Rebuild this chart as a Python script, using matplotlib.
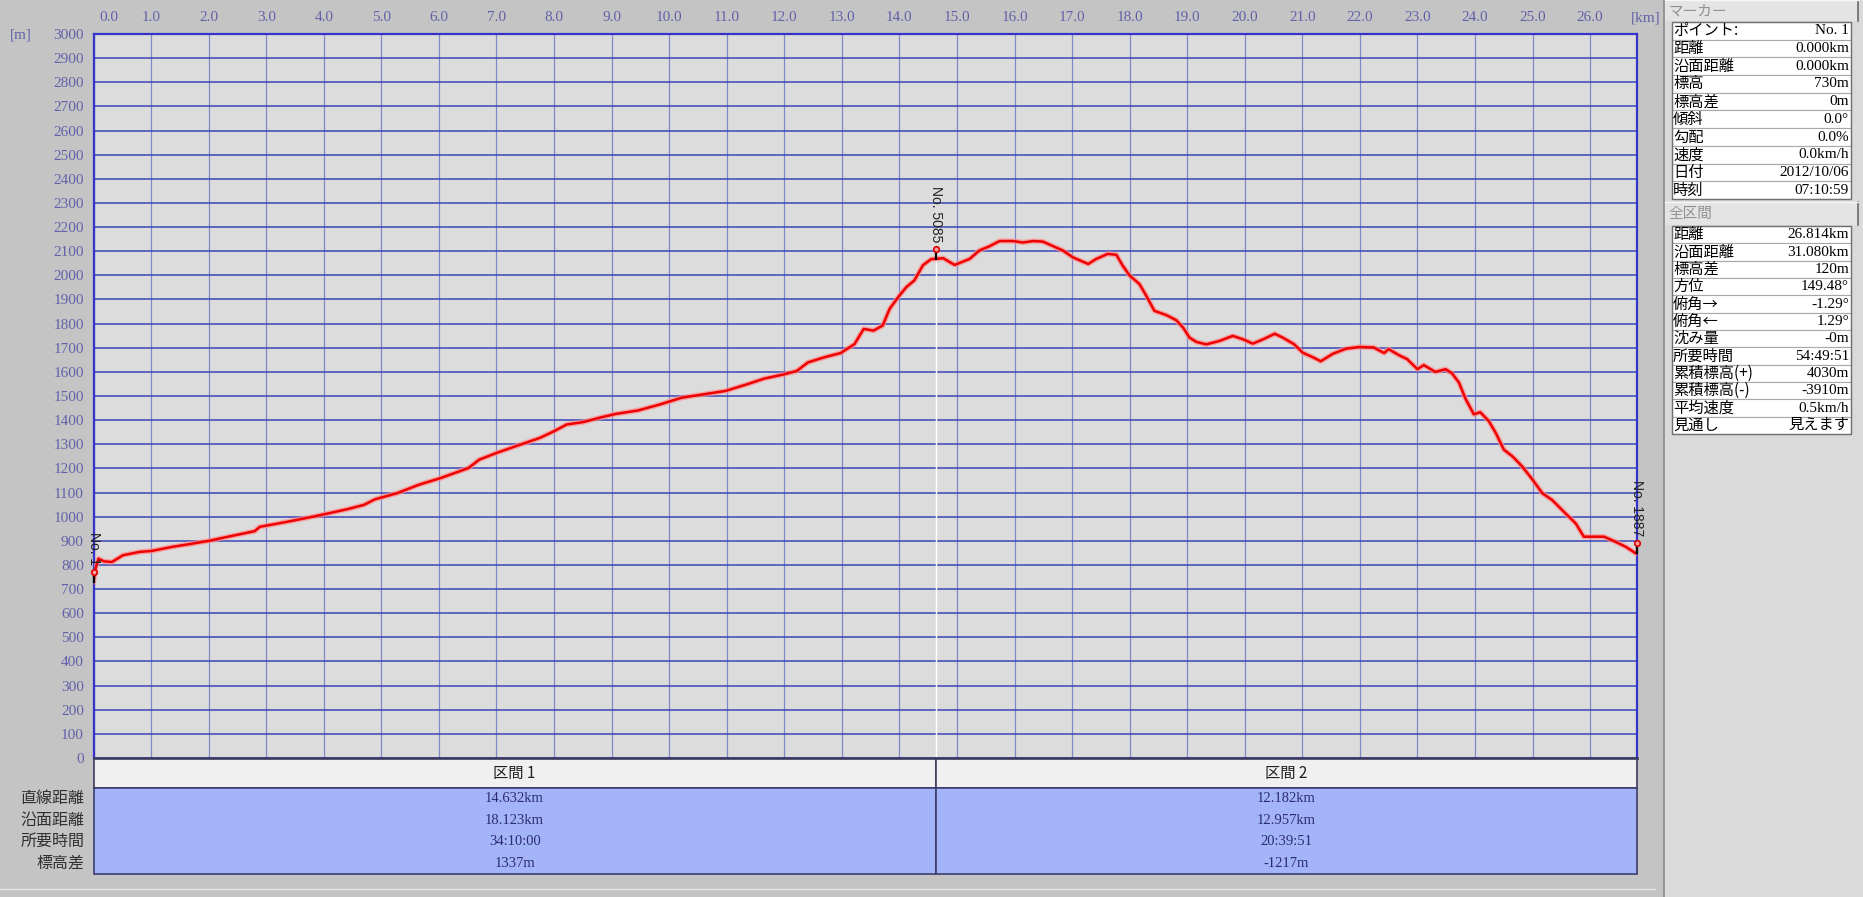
import numpy as np
import matplotlib
matplotlib.use("Agg")
import matplotlib.pyplot as plt
import matplotlib.patheffects as pe
from matplotlib.patches import Rectangle
from matplotlib.transforms import offset_copy, ScaledTranslation

# 標高プロファイル (距離 km, 標高 m)
dist_km = [0.00, 0.03, 0.086, 0.18, 0.32, 0.51, 0.80, 1.01, 1.37, 1.66, 2.01, 2.28,
           2.80, 2.89, 3.37, 3.75, 4.01, 4.41, 4.70, 4.89, 5.27, 5.65, 6.03, 6.51,
           6.70, 7.00, 7.36, 7.75, 8.00, 8.22, 8.51, 8.79, 9.08, 9.46, 9.84, 10.22,
           10.60, 10.98, 11.36, 11.65, 12.00, 12.22, 12.41, 12.69, 12.98, 13.22, 13.38,
           13.55, 13.71, 13.83, 13.98, 14.12, 14.26, 14.41, 14.55, 14.63, 14.76, 14.96,
           15.22, 15.39, 15.57, 15.74, 15.97, 16.15, 16.32, 16.49, 16.67, 16.84, 17.01,
           17.28, 17.42, 17.62, 17.77, 17.88, 18.00, 18.17, 18.29, 18.43, 18.64, 18.81,
           18.93, 19.04, 19.16, 19.33, 19.56, 19.79, 19.97, 20.14, 20.32, 20.52, 20.66,
           20.86, 21.01, 21.18, 21.32, 21.53, 21.76, 21.99, 22.24, 22.42, 22.50, 22.68,
           22.82, 23.00, 23.11, 23.31, 23.49, 23.60, 23.72, 23.84, 23.98, 24.09, 24.24,
           24.36, 24.50, 24.65, 24.82, 25.00, 25.17, 25.34, 25.57, 25.75, 25.89, 26.24,
           26.44, 26.62, 26.78, 26.814]
elev_m = [730, 780, 826, 815, 812, 840, 854, 858, 875, 886, 900, 914,
          940, 958, 979, 997, 1010, 1031, 1049, 1072, 1097, 1132, 1160, 1201,
          1236, 1264, 1294, 1326, 1354, 1382, 1392, 1410, 1426, 1440, 1465, 1493,
          1507, 1521, 1549, 1572, 1590, 1604, 1639, 1660, 1678, 1715, 1778,
          1771, 1792, 1861, 1910, 1951, 1979, 2042, 2067, 2068, 2071, 2043,
          2068, 2103, 2121, 2142, 2142, 2136, 2142, 2140, 2121, 2103, 2075,
          2047, 2068, 2089, 2085, 2040, 1999, 1964, 1915, 1853, 1835, 1814,
          1783, 1742, 1724, 1714, 1728, 1749, 1735, 1717, 1735, 1758, 1742,
          1714, 1679, 1661, 1644, 1675, 1696, 1703, 1701, 1678, 1694, 1669,
          1653, 1611, 1628, 1600, 1611, 1594, 1556, 1486, 1424, 1433, 1396,
          1347, 1278, 1250, 1208, 1153, 1097, 1069, 1014, 972, 917, 917,
          896, 875, 850, 846]

# マーカー
marker_km = [0.0, 14.632, 26.814]
marker_elev = [730, 2068, 850]
marker_names = ["No. 1", "No. 5085", "No. 1887"]

# 区間テーブル
section_bounds_km = [0.0, 14.632, 26.814]
section_names = ["区間 1", "区間 2"]
row_labels = ["直線距離", "沿面距離", "所要時間", "標高差"]
section_values = [["14.632km", "18.123km", "34:10:00", "1337m"],
                  ["12.182km", "12.957km", "20:39:51", "-1217m"]]

# 右パネル
marker_labels = ["ポイント:", "距離", "沿面距離", "標高", "標高差", "傾斜", "勾配",
                 "速度", "日付", "時刻"]
marker_values = ["No. 1", "0.000km", "0.000km", "730m", "0m", "0.0°", "0.0%",
                 "0.0km/h", "2012/10/06", "07:10:59"]
total_labels = ["距離", "沿面距離", "標高差", "方位", "俯角→", "俯角←", "沈み量",
                "所要時間", "累積標高(+)", "累積標高(-)", "平均速度", "見通し"]
total_values = ["26.814km", "31.080km", "120m", "149.48°", "-1.29°", "1.29°", "-0m",
                "54:49:51", "4030m", "-3910m", "0.5km/h", "見えます"]

xticks = np.arange(0, 27)
yticks = np.arange(0, 3001, 100)

JP = ["Noto Sans CJK JP", "DejaVu Sans"]
NUM = ["Liberation Serif", "Noto Sans CJK JP", "DejaVu Sans"]
TICK_C = "#6262aa"

W, H = 1863, 897
fig = plt.figure(figsize=(W / 100, H / 100), dpi=100)
fig.patch.set_facecolor("#c4c4c4")


def box(x0, y0, x1, y1):
    return [x0 / W, 1 - y1 / H, (x1 - x0) / W, (y1 - y0) / H]


# ---- 標高グラフ ----
ax = fig.add_axes(box(93.5, 34, 1637, 758))
ax.set_facecolor("#dcdcdc")
ax.set_xlim(0, section_bounds_km[-1])
ax.set_ylim(0, 3000)
ax.set_yticks(yticks)
ax.set_yticklabels([str(v) for v in yticks], family=NUM, fontsize=11, color=TICK_C)
ax.xaxis.tick_top()
ax.set_xticks(xticks)
ax.set_xticklabels([f"{v:.1f}" for v in xticks], family=NUM, fontsize=11, color=TICK_C)
ax.tick_params(axis="y", length=0, pad=7)
ax.tick_params(axis="x", length=0, pad=7)
first = ax.get_xticklabels()[0]
first.set_transform(first.get_transform() + ScaledTranslation(0.15, 0, fig.dpi_scale_trans))

ax.grid(axis="y", color="#3a46b8", lw=1.1)
ax.grid(axis="x", color="#7f88c8", lw=0.9)
ax.set_axisbelow(True)
for s in ["left", "top", "right"]:
    ax.spines[s].set_color("#3434c8")
    ax.spines[s].set_linewidth(1.6)
ax.spines["bottom"].set_color("#3c3c6c")
ax.spines["bottom"].set_linewidth(2)

fig.text(10 / W, 1 - 35 / H, "[m]", family=NUM, fontsize=11, color=TICK_C,
         ha="left", va="center")
fig.text(1646 / W, 1 - 18 / H, "[km]", family=NUM, fontsize=11, color=TICK_C,
         ha="center", va="center")

# マーカー位置の白線
ax.vlines(marker_km[1], 0, marker_elev[1], color="white", lw=1, zorder=2)

ax.plot(dist_km, elev_m, color="#ee0000", lw=1.8, zorder=4,
        path_effects=[pe.Stroke(linewidth=3.8, foreground="#ff8a8a", alpha=0.7), pe.Normal()])

tick_tr = offset_copy(ax.transData, fig=fig, x=0, y=4, units="dots")
dot_tr = offset_copy(ax.transData, fig=fig, x=0, y=10, units="dots")
lab_tr = offset_copy(ax.transData, fig=fig, x=0, y=17, units="dots")
for km, el, name in zip(marker_km, marker_elev, marker_names):
    ax.plot([km], [el], marker="|", ms=7, mew=1.6, color="black", transform=tick_tr,
            zorder=5, clip_on=False)
    ax.plot([km], [el], marker="o", ms=4, mew=1.2, mfc="#f4a0a0", mec="#dd0000",
            transform=dot_tr, zorder=6, clip_on=False)
    ax.text(km, el, name, rotation=-90, ha="center", va="bottom", fontsize=10,
            family="Liberation Sans", color="#202020", transform=lab_tr, zorder=6,
            clip_on=False)

# ---- 区間テーブル ----
tab = fig.add_axes(box(93.5, 759, 1637, 874))
tab.set_xlim(0, section_bounds_km[-1])
tab.set_ylim(115, 0)
tab.axis("off")
hdr_h = 29
row_h = (115 - hdr_h) / len(row_labels)
for i, name in enumerate(section_names):
    x0, x1 = section_bounds_km[i], section_bounds_km[i + 1]
    tab.add_patch(Rectangle((x0, 0), x1 - x0, hdr_h, facecolor="#f0f0f0",
                            edgecolor="#3c3c5c", lw=1.2, clip_on=False))
    tab.add_patch(Rectangle((x0, hdr_h), x1 - x0, 115 - hdr_h, facecolor="#a4b4f8",
                            edgecolor="#3c3c6c", lw=1.2, clip_on=False))
    tab.text((x0 + x1) / 2, hdr_h / 2, name, family=JP, fontsize=11, ha="center",
             va="center", color="#202020")
    for j, v in enumerate(section_values[i]):
        tab.text((x0 + x1) / 2, hdr_h + row_h * (j + 0.5), v, family=NUM, fontsize=10.5,
                 ha="center", va="center", color="#2c2c70")
for j, lab in enumerate(row_labels):
    tab.annotate(lab, xy=(0, hdr_h + row_h * (j + 0.5)), xycoords=("axes fraction", "data"),
                 xytext=(-9, 0), textcoords="offset pixels", ha="right", va="center",
                 family=JP, fontsize=11.5, color="#303030")

# ---- 右パネル ----
pan = fig.add_axes(box(1650, 0, 1863, 897))
pan.set_xlim(1650, 1863)
pan.set_ylim(897, 0)
pan.axis("off")
pan.add_patch(Rectangle((1664, 0), 199, 897, facecolor="#dadada", edgecolor="none"))
pan.plot([1664, 1664], [0, 897], color="#8a8a8a", lw=1.2)


def draw_table(title, y_tab, y0, y1, labels, values):
    pan.add_patch(Rectangle((1665, y_tab), 193, y0 - y_tab - 1, facecolor="#e4e4e4",
                            edgecolor="none"))
    pan.plot([1858, 1858], [y_tab, y0 - 1], color="#6a6a6a", lw=1.2)
    pan.plot([1665, 1858], [y_tab, y_tab], color="#f6f6f6", lw=1)
    pan.text(1668, (y_tab + y0) / 2, title, family=JP, fontsize=10.5, color="#909090",
             ha="left", va="center")
    rh = (y1 - y0) / len(labels)
    for k, (lab, val) in enumerate(zip(labels, values)):
        yy = y0 + k * rh
        pan.add_patch(Rectangle((1672, yy), 179, rh, facecolor="white",
                                edgecolor="#a8a8a8", lw=0.8))
        pan.text(1673, yy + rh / 2, lab, family=JP, fontsize=11, color="black",
                 ha="left", va="center")
        pan.text(1849, yy + rh / 2, val, family=NUM, fontsize=11, color="black",
                 ha="right", va="center")
    pan.add_patch(Rectangle((1672, y0), 179, y1 - y0, facecolor="none",
                            edgecolor="#707070", lw=1))


draw_table("マーカー", 0, 22, 199, marker_labels, marker_values)
draw_table("全区間", 202, 226, 434, total_labels, total_values)

fig.add_artist(plt.Line2D([0, 1655 / W], [1 - 889 / H, 1 - 889 / H], color="#e6e6e6",
                          lw=1, transform=fig.transFigure))

fig.savefig("out.png", dpi=100, facecolor=fig.get_facecolor())
